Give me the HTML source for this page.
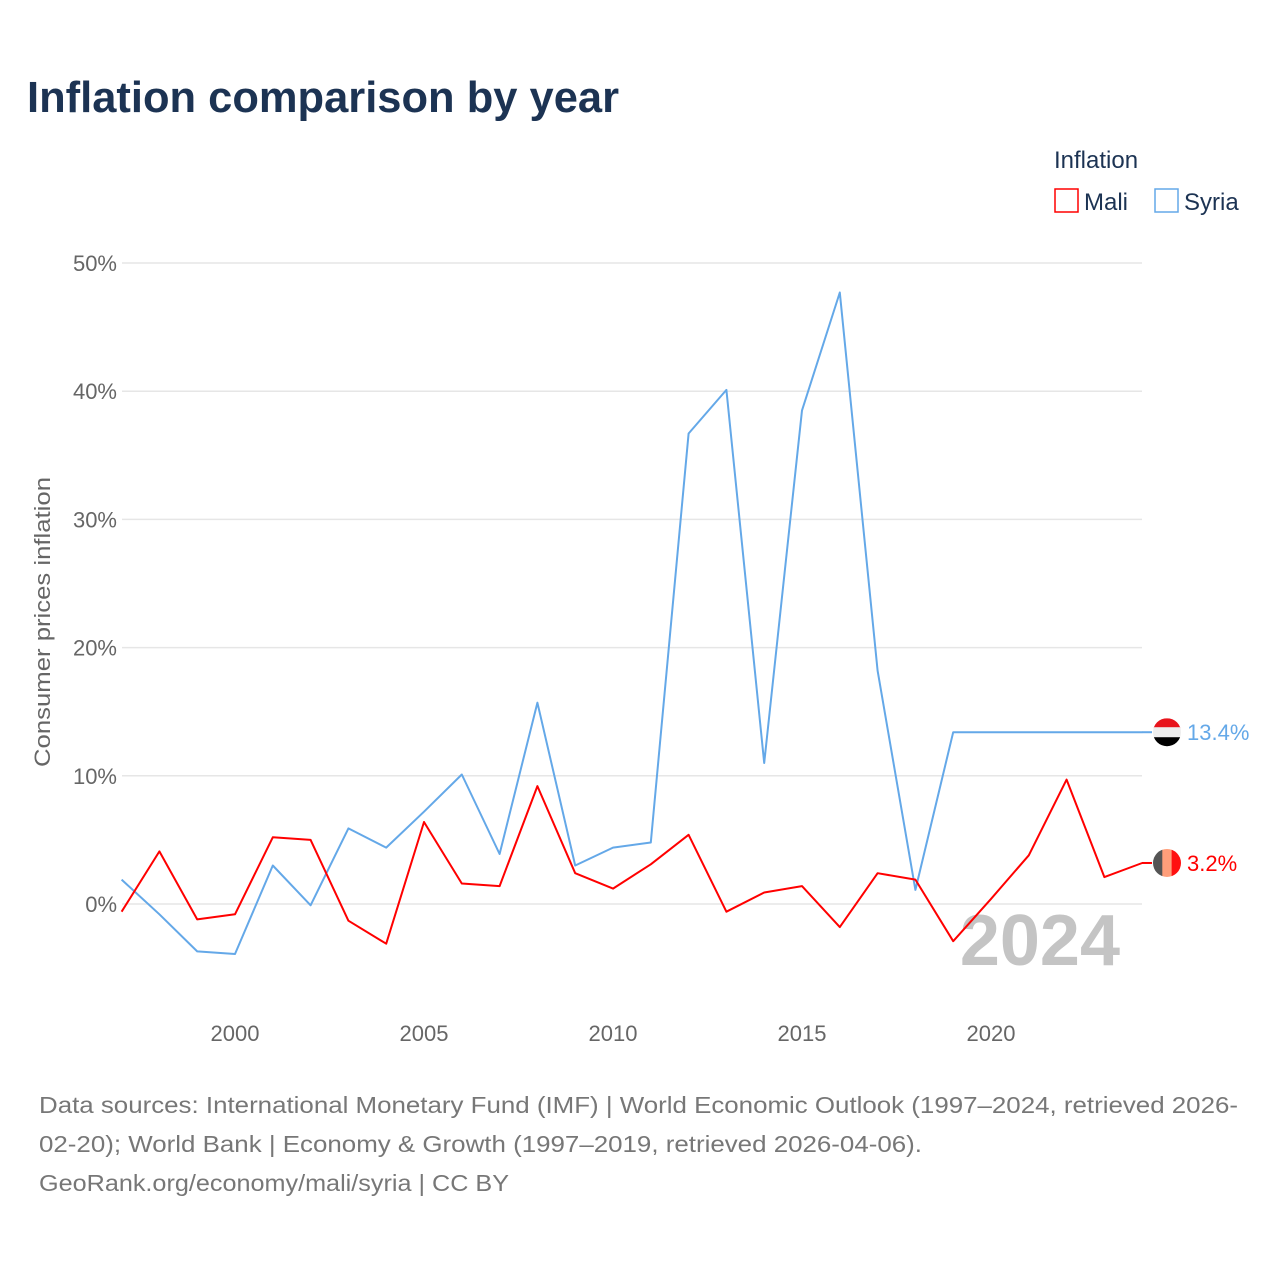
<!DOCTYPE html>
<html><head><meta charset="utf-8">
<style>
body{margin:0;background:#fff;font-family:"Liberation Sans",sans-serif;}
#wrap{position:relative;width:1280px;height:1280px;overflow:hidden;}
</style></head>
<body>
<div id="wrap">
<svg id="chart" width="1280" height="1280" style="position:absolute;left:0;top:0"></svg>
</div>
<script>
const years=[1997,1998,1999,2000,2001,2002,2003,2004,2005,2006,2007,2008,2009,2010,2011,2012,2013,2014,2015,2016,2017,2018,2019,2020,2021,2022,2023,2024];
const mali=[-0.6,4.1,-1.2,-0.8,5.2,5.0,-1.3,-3.1,6.4,1.6,1.4,9.2,2.4,1.2,3.1,5.4,-0.6,0.9,1.4,-1.8,2.4,1.9,-2.9,0.4,3.8,9.7,2.1,3.2];
const syria=[1.9,-0.8,-3.7,-3.9,3.0,-0.1,5.9,4.4,7.2,10.1,3.9,15.7,3.0,4.4,4.8,36.7,40.1,11.0,38.5,47.7,18.2,1.1,13.4,13.4,13.4,13.4,13.4,13.4];
const yTicks=[0,10,20,30,40,50];
const xTicks=[2000,2005,2010,2015,2020];

const NS="http://www.w3.org/2000/svg";
const svg=document.getElementById('chart');
const X=y=>235+(y-2000)*37.8;
const Y=v=>904-v*12.82;
function el(tag,attrs,text){const e=document.createElementNS(NS,tag);for(const k in attrs)e.setAttribute(k,attrs[k]);if(text!==undefined)e.textContent=text;svg.appendChild(e);return e;}

let t=el('text',{x:27,y:112,'font-size':44,'font-weight':'bold',fill:'#1c3353',textLength:592,lengthAdjust:'spacingAndGlyphs'},'Inflation comparison by year');



yTicks.forEach(v=>{
  const g=el('line',{x1:122,x2:1142,y1:Y(v),y2:Y(v),stroke:'#e6e6e6','stroke-width':1.5});
  
  
  const l=el('text',{x:117,y:Y(v)+8,'font-size':22,fill:'#666','text-anchor':'end'},v+'%');
  
  
});
xTicks.forEach(y=>{
  const l=el('text',{x:X(y),y:1041,'font-size':22,fill:'#666','text-anchor':'middle'},String(y));
  
  
});
const yt=el('text',{x:0,y:0,'font-size':22,fill:'#666','text-anchor':'middle',transform:'translate(50,622) rotate(-90)',textLength:290,lengthAdjust:'spacingAndGlyphs'},'Consumer prices inflation');



const yr=el('text',{x:1120,y:965,'font-size':72,'font-weight':'bold',fill:'#c4c4c4','text-anchor':'end'},'2024');



function line(vals,color,name){
  const d=vals.map((v,i)=>(i?'L':'M')+X(years[i]).toFixed(1)+','+Y(v).toFixed(1)).join(' ');
  const p=el('path',{d:d,fill:'none',stroke:color,'stroke-width':2,'stroke-linejoin':'round'});
  
  
}
line(syria,'#64a8e8','syria-line');
line(mali,'#ff0000','mali-line');

const sv=syria[syria.length-1], mv=mali[mali.length-1];
el('line',{x1:1142,x2:1152,y1:Y(sv),y2:Y(sv),stroke:'#64a8e8','stroke-width':2});
el('line',{x1:1142,x2:1152,y1:Y(mv),y2:Y(mv),stroke:'#ff0000','stroke-width':2});
let cy=Y(sv);
const cp1=el('clipPath',{id:'c1'});const cc1=document.createElementNS(NS,'circle');cc1.setAttribute('cx',1167);cc1.setAttribute('cy',cy);cc1.setAttribute('r',14);cp1.appendChild(cc1);
const f1=el('g',{'clip-path':'url(#c1)'});


[['#e8141c',-14],['#eeeeee',-5],['#000',5]].forEach(([c,o])=>{const r=document.createElementNS(NS,'rect');r.setAttribute('x',1153);r.setAttribute('y',cy+o);r.setAttribute('width',28);r.setAttribute('height',10);r.setAttribute('fill',c);f1.appendChild(r);});
let sl=el('text',{x:1187,y:cy+8,'font-size':22,fill:'#64a8e8'},sv.toFixed(1)+'%');


cy=Y(mv);
const cp=el('clipPath',{id:'c2'});const cc=document.createElementNS(NS,'circle');cc.setAttribute('cx',1167);cc.setAttribute('cy',cy);cc.setAttribute('r',14);cp.appendChild(cc);
const f2=el('g',{'clip-path':'url(#c2)'});


[['#555',1153],['#ff9e7a',1162.3],['#ff1010',1171.6]].forEach(([c,x])=>{const r=document.createElementNS(NS,'rect');r.setAttribute('x',x);r.setAttribute('y',cy-14);r.setAttribute('width',9.5);r.setAttribute('height',28);r.setAttribute('fill',c);f2.appendChild(r);});
let ml=el('text',{x:1187,y:cy+8,'font-size':22,fill:'#ff0000'},mv.toFixed(1)+'%');



let lt=el('text',{x:1054,y:168,'font-size':24,fill:'#1c3353'},'Inflation');


let r1=el('rect',{x:1055,y:189,width:23,height:23,fill:'none',stroke:'#ff0000','stroke-width':1.5});


let l1=el('text',{x:1084,y:210,'font-size':24,fill:'#1c3353'},'Mali');


let r2=el('rect',{x:1155,y:189,width:23,height:23,fill:'none',stroke:'#64a8e8','stroke-width':1.5});


let l2=el('text',{x:1184,y:210,'font-size':24,fill:'#1c3353'},'Syria');



[['Data sources: International Monetary Fund (IMF) | World Economic Outlook (1997–2024, retrieved 2026-',1199],
 ['02-20); World Bank | Economy & Growth (1997–2019, retrieved 2026-04-06).',883],
 ['GeoRank.org/economy/mali/syria | CC BY',470]].forEach(([s,w],i)=>{
  const f=el('text',{x:39,y:1113+i*39,'font-size':23,fill:'#777',textLength:w,lengthAdjust:'spacingAndGlyphs'},s);
  
  
});
</script>
</body></html>
